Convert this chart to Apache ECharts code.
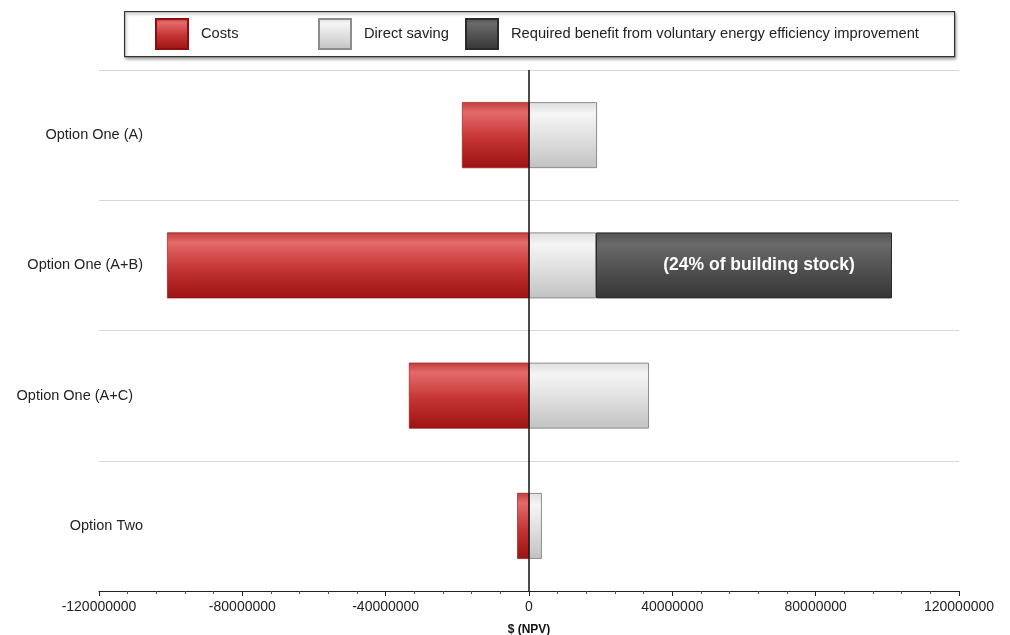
<!DOCTYPE html>
<html lang="en">
<head>
    <meta charset="UTF-8">
    <title>Costs vs savings (NPV)</title>
    <script src="https://cdn.jsdelivr.net/npm/echarts@6/dist/echarts.min.js"></script>
    <style>
        html, body { margin: 0; padding: 0; background: #fff; }
        #container { width: 1010px; height: 635px; }
    </style>
</head>
<body>
    <div id="container"></div>
    <script>
        // categories, top to bottom
        var categories = ['Option One (A)', 'Option One (A+B)', 'Option One (A+C)', 'Option Two'];
        // values in $ NPV
        var costs = [-18700000, -101000000, -33500000, -3300000];
        var directSaving = [19000000, 18700000, 33500000, 3600000];
        var requiredBenefit = ['-', 82600000, '-', '-'];
        var xTicks = { min: -120000000, max: 120000000, interval: 40000000 };
        var benefitNote = '(24% of building stock)';

        var font = 'Liberation Sans, Arial, sans-serif';

        function vGrad(stops) {
            return new echarts.graphic.LinearGradient(0, 0, 0, 1, stops.map(function (s) {
                return { offset: s[0], color: s[1] };
            }));
        }
        var redFill = vGrad([[0, '#c23c3c'], [0.15, '#e56a6a'], [0.55, '#c53434'], [1, '#9c1212']]);
        var greyFill = vGrad([[0, '#dedede'], [0.18, '#f5f5f5'], [0.6, '#dcdcdc'], [1, '#c2c2c2']]);
        var darkFill = vGrad([[0, '#505050'], [0.18, '#6a6a6a'], [0.6, '#4e4e4e'], [1, '#353535']]);

        var myChart = echarts.init(document.getElementById('container'));

        // category labels on the left (A+C sits a little further left in the picture)
        var yData = categories.map(function (c, i) {
            return i === 2 ? { value: c, textStyle: { padding: [0, 10, 0, 0] } } : c;
        });

        function legendAt(left, name) {
            return {
                left: left, top: 18, padding: 0,
                icon: 'rect', itemWidth: 32, itemHeight: 30,
                data: [name], selectedMode: false,
                textStyle: { fontFamily: font, fontSize: 14.7, color: '#222', padding: [0, 0, 0, 8] }
            };
        }

        myChart.setOption({
            backgroundColor: '#fff',
            animation: false,
            graphic: [{
                type: 'rect', left: 124, top: 11, z: -1,
                shape: { width: 830, height: 45 },
                style: { fill: '#fff', stroke: '#333', lineWidth: 1.2,
                    shadowBlur: 3, shadowOffsetX: 1, shadowOffsetY: 2, shadowColor: 'rgba(0,0,0,0.35)' }
            }],
            legend: [
                legendAt(155, 'Costs'),
                legendAt(318, 'Direct saving'),
                legendAt(465, 'Required benefit from voluntary energy efficiency improvement')
            ],
            grid: { left: 99, right: 51, top: 70, bottom: 44, containLabel: false, outerBoundsMode: 'none' },
            xAxis: {
                type: 'value',
                min: xTicks.min, max: xTicks.max, interval: xTicks.interval,
                name: '$ (NPV)', nameLocation: 'middle', nameGap: 33,
                nameTextStyle: { fontFamily: font, fontSize: 12, fontWeight: 'bold', color: '#111' },
                axisLine: { show: true, onZero: false, lineStyle: { color: '#222', width: 1.2 } },
                axisTick: { show: true, length: 5, lineStyle: { color: '#222' } },
                minorTick: { show: true, splitNumber: 5, length: 3, lineStyle: { color: '#555' } },
                axisLabel: {
                    fontFamily: font, fontSize: 14, color: '#222', margin: 9,
                    formatter: function (v) { return String(v); }
                },
                splitLine: { show: false }
            },
            yAxis: {
                type: 'category',
                inverse: true,
                data: yData,
                axisLine: { show: false, onZero: false },
                axisTick: { show: false },
                axisLabel: { fontFamily: font, fontSize: 14.5, color: '#222', margin: -44 },
                splitLine: { show: true, lineStyle: { color: '#d6d6d6', width: 1 } }
            },
            series: [
                {
                    name: 'Costs', type: 'bar', stack: 'npv', barWidth: 66,
                    data: costs,
                    itemStyle: { color: redFill, borderColor: '#8a1010', borderWidth: 0.6 },
                    markLine: {
                        silent: true, symbol: 'none', label: { show: false },
                        lineStyle: { color: '#111', width: 1.5, type: 'solid' },
                        data: [{ xAxis: 0 }],
                        z: 10
                    }
                },
                {
                    name: 'Direct saving', type: 'bar', stack: 'npv', barWidth: 66,
                    data: directSaving,
                    itemStyle: { color: greyFill, borderColor: '#8c8c8c', borderWidth: 1 }
                },
                {
                    name: 'Required benefit from voluntary energy efficiency improvement',
                    type: 'bar', stack: 'npv', barWidth: 66,
                    data: requiredBenefit,
                    itemStyle: { color: darkFill, borderColor: '#2a2a2a', borderWidth: 1 },
                    label: {
                        show: true, position: 'inside', offset: [15, 0],
                        formatter: benefitNote,
                        color: '#fff', fontFamily: font, fontSize: 17.5, fontWeight: 'bold'
                    }
                }
            ]
        });
    </script>
</body>
</html>
